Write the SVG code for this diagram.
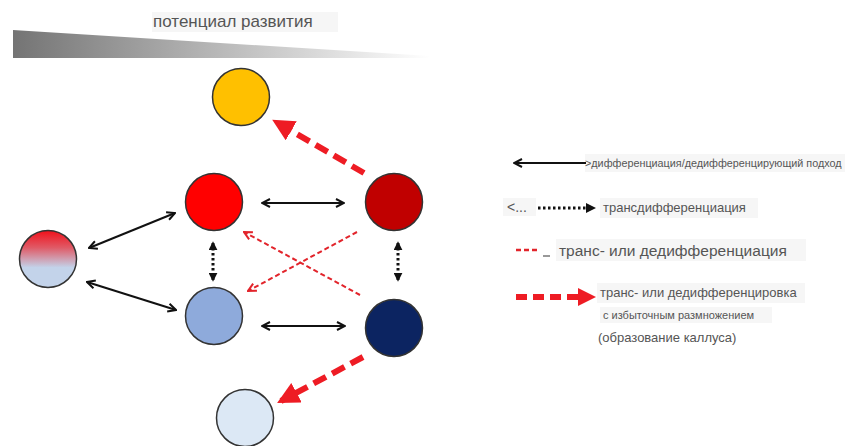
<svg xmlns="http://www.w3.org/2000/svg" width="849" height="446" viewBox="0 0 849 446">
<defs>
<linearGradient id="wedge" x1="0" y1="0" x2="1" y2="0">
<stop offset="0" stop-color="#747474"/>
<stop offset="0.5" stop-color="#b9b9b9"/>
<stop offset="1" stop-color="#ffffff"/>
</linearGradient>
<linearGradient id="mix" x1="0" y1="0" x2="0" y2="1">
<stop offset="0" stop-color="#f0101a"/>
<stop offset="0.3" stop-color="#e05a66"/>
<stop offset="0.65" stop-color="#c3d3ea"/>
<stop offset="1" stop-color="#c3d3ea"/>
</linearGradient>
<marker id="openV" viewBox="0 0 10 10" refX="9" refY="5" markerWidth="10" markerHeight="10" markerUnits="userSpaceOnUse" orient="auto-start-reverse">
<path d="M1,1 L9,5 L1,9" fill="none" stroke="#111" stroke-width="2"/>
</marker>
<marker id="triK" viewBox="0 0 10 10" refX="8" refY="5" markerWidth="9" markerHeight="9" markerUnits="userSpaceOnUse" orient="auto-start-reverse">
<path d="M0,0 L10,5 L0,10 Z" fill="#111"/>
</marker>
<marker id="redV" viewBox="0 0 10 10" refX="9" refY="5" markerWidth="10" markerHeight="10" markerUnits="userSpaceOnUse" orient="auto">
<path d="M1,1 L9,5 L1,9" fill="none" stroke="#e2242b" stroke-width="2"/>
</marker>
<marker id="redBig" viewBox="0 0 10 10" refX="8" refY="5" markerWidth="22" markerHeight="22" markerUnits="userSpaceOnUse" orient="auto">
<path d="M0,0 L10,5 L0,10 Z" fill="#ee1c24"/>
</marker>
<style>
.c{stroke:#333;stroke-width:1.5}
.blk{stroke:#111;stroke-width:2;fill:none;marker-start:url(#openV);marker-end:url(#openV)}
.dot{stroke:#111;stroke-width:3;stroke-dasharray:2.5 2.5;fill:none;marker-start:url(#triK);marker-end:url(#triK)}
.thin{stroke:#e2242b;stroke-width:2;stroke-dasharray:5 3;fill:none;marker-end:url(#redV)}
.thick{stroke:#ee1c24;stroke-width:6;stroke-dasharray:14 7;fill:none;marker-end:url(#redBig)}
.t{font-family:"Liberation Sans",Arial,sans-serif;fill:#555}
.bg{fill:#f6f6f6}
</style>
</defs>

<g id="header">
<polygon points="13,30 430,56 430,58 13,58" fill="url(#wedge)"/>
<rect class="bg" x="152" y="12" width="186" height="20"/>
<text class="t" x="153" y="27" font-size="17" fill="#666">потенциал развития</text>
</g>

<g id="connectors">
<line class="blk" x1="262" y1="203" x2="344" y2="203"/>
<line class="blk" x1="262" y1="326" x2="345" y2="326"/>
<line class="blk" x1="89" y1="248" x2="175" y2="213"/>
<line class="blk" x1="87" y1="282" x2="176" y2="310"/>
<line class="dot" x1="213" y1="243" x2="213" y2="280"/>
<line class="dot" x1="398" y1="243" x2="398" y2="280"/>
<line class="thin" x1="357" y1="232" x2="248" y2="291"/>
<line class="thin" x1="360" y1="295" x2="244" y2="232"/>
<line class="thick" x1="364" y1="173" x2="276" y2="122"/>
<line class="thick" x1="363" y1="357" x2="281" y2="401"/>
</g>

<g id="node-yellow"><circle class="c" cx="241" cy="97" r="28.5" fill="#ffc000"/></g>
<g id="node-red"><circle class="c" cx="214" cy="202" r="28.5" fill="#ff0000"/></g>
<g id="node-darkred"><circle class="c" cx="394" cy="202" r="28.5" fill="#c00000"/></g>
<g id="node-mixed"><circle class="c" cx="48" cy="259" r="28.5" fill="url(#mix)"/></g>
<g id="node-lightblue"><circle class="c" cx="214" cy="316" r="28.5" fill="#8eaadb"/></g>
<g id="node-navy"><circle class="c" cx="394" cy="328" r="28.5" fill="#0c2461"/></g>
<g id="node-paleblue"><circle class="c" cx="245" cy="418" r="28.5" fill="#dce8f5"/></g>

<g id="legend">
<rect class="bg" x="585" y="154" width="260" height="18"/>
<line x1="514" y1="163" x2="586" y2="163" stroke="#111" stroke-width="2" marker-start="url(#openV)"/>
<text class="t" x="585" y="167" font-size="10.8">&gt;дифференциация/дедифференцирующий подход</text>

<rect class="bg" x="503" y="198" width="33" height="18"/>
<rect class="bg" x="600" y="198" width="158" height="20"/>
<text class="t" x="507" y="212" font-size="14">&lt;...</text>
<line x1="538" y1="208" x2="588" y2="208" stroke="#111" stroke-width="3" stroke-dasharray="2.5 2.5"/>
<path d="M586,203 L596,208 L586,213 Z" fill="#111"/>
<text class="t" x="603" y="212" font-size="13">трансдифференциация</text>

<rect class="bg" x="556" y="239" width="250" height="22"/>
<line x1="516" y1="250" x2="538" y2="250" stroke="#e2242b" stroke-width="2.5" stroke-dasharray="5 3"/>
<line x1="543" y1="256" x2="550" y2="256" stroke="#555" stroke-width="1.2"/>
<text class="t" x="559" y="256" font-size="15.5" fill="#444">транс- или дедифференциация</text>

<rect class="bg" x="597" y="283" width="208" height="20"/>
<line x1="516" y1="297" x2="580" y2="297" stroke="#ee1c24" stroke-width="6" stroke-dasharray="11 6"/>
<path d="M578,288 L596,297 L578,306 Z" fill="#ee1c24"/>
<text class="t" x="600" y="297" font-size="13">транс- или дедифференцировка</text>

<rect class="bg" x="600" y="307" width="172" height="16"/>
<text class="t" x="603" y="319" font-size="11">с избыточным размножением</text>
<text class="t" x="598" y="342" font-size="13">(образование каллуса)</text>
</g>
</svg>
